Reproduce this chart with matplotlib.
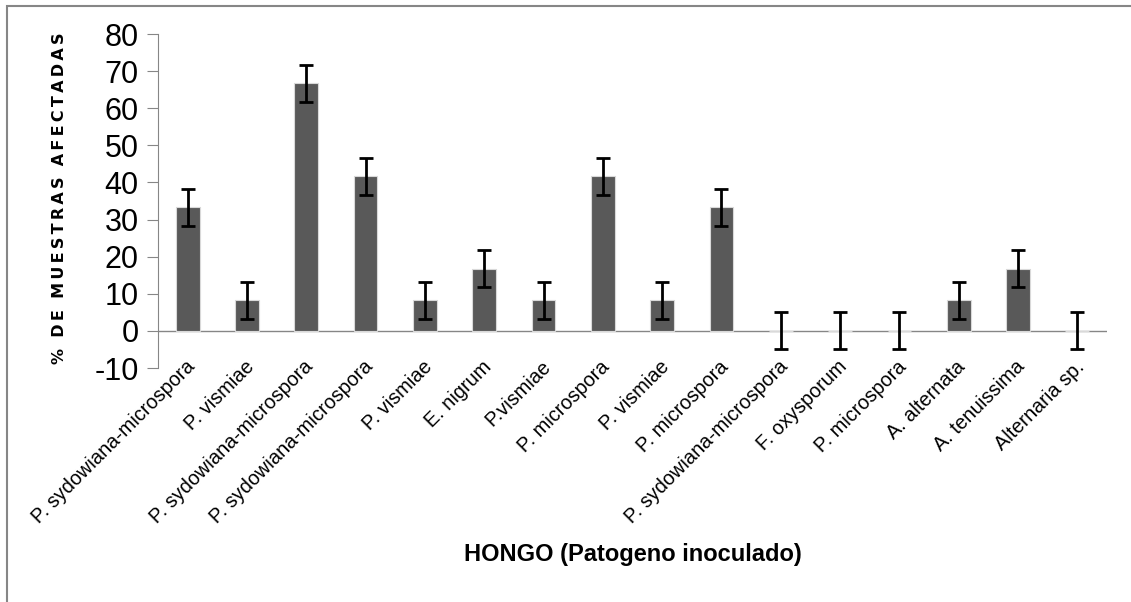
import numpy as np
from matplotlib import pyplot as plt
from matplotlib.patches import Rectangle
from matplotlib.transforms import ScaledTranslation

plt.rcParams["axes.unicode_minus"] = False
plt.rcParams["font.family"] = ["Liberation Sans", "DejaVu Sans"]

hongos = ["P. sydowiana-microspora", "P. vismiae", "P. sydowiana-microspora",
          "P. sydowiana-microspora", "P. vismiae", "E. nigrum", "P.vismiae",
          "P. microspora", "P. vismiae", "P. microspora",
          "P. sydowiana-microspora", "F. oxysporum", "P. microspora",
          "A. alternata", "A. tenuissima", "Alternaria sp."]
porcentaje = [33.3, 8.3, 66.7, 41.7, 8.3, 16.7, 8.3, 41.7, 8.3, 33.3,
              0, 0, 0, 8.3, 16.7, 0]
error = [5] * len(porcentaje)

W, H = 1131, 602
fig = plt.figure(figsize=(W / 100, H / 100), dpi=100)
ax = fig.add_axes([158 / W, 1 - 368 / H, (1107 - 158) / W, (368 - 34) / H])

x = np.arange(len(hongos))
ax.bar(x, porcentaje, width=0.4, color="#595959", edgecolor="#d9d9d9", lw=0.8,
       yerr=error, error_kw=dict(ecolor="black", elinewidth=2, capsize=5, capthick=2),
       zorder=2)

ax.set_xlim(-0.5, len(hongos) - 0.5)
ax.set_ylim(-10, 80)
ax.set_yticks(np.arange(-10, 81, 10))
ax.tick_params(axis="y", labelsize=22, length=8, color="#868686", pad=6)
ax.set_xticks(x)
ax.set_xticklabels(hongos, rotation=45, ha="right", va="center",
                   rotation_mode="anchor", fontsize=14.3)
ax.tick_params(axis="x", length=0, pad=0)
# nudge labels slightly up/right like the original
off = ScaledTranslation(4 / 100, 4 / 100, fig.dpi_scale_trans)
for lab in ax.get_xticklabels():
    lab.set_transform(lab.get_transform() + off)

for s in ["top", "right", "bottom"]:
    ax.spines[s].set_visible(False)
ax.spines["left"].set_color("#868686")
ax.axhline(0, color="#868686", lw=1, zorder=1)

fig.text(633 / W, 1 - 555 / H, "HONGO (Patogeno inoculado)", fontsize=17,
         fontweight="bold", ha="center", va="center")

ylab = "%  D\u2009E  M\u2009U\u2009E\u2009S\u2009T\u2009R\u2009A\u2009S  A\u2009F\u2009E\u2009C\u2009T\u2009A\u2009D\u2009A\u2009S"
fig.text(60 / W, 1 - 364 / H, ylab, rotation=90, fontsize=11.5, fontweight="bold",
         ha="center", va="bottom", family=["DejaVu Sans"])

fig.patches.append(Rectangle((7 / W, -0.1), 1.2, 1 - 6 / H + 0.1,
                             transform=fig.transFigure, fill=False,
                             edgecolor="#868686", lw=1.5))

fig.savefig("out.png", dpi=100)
